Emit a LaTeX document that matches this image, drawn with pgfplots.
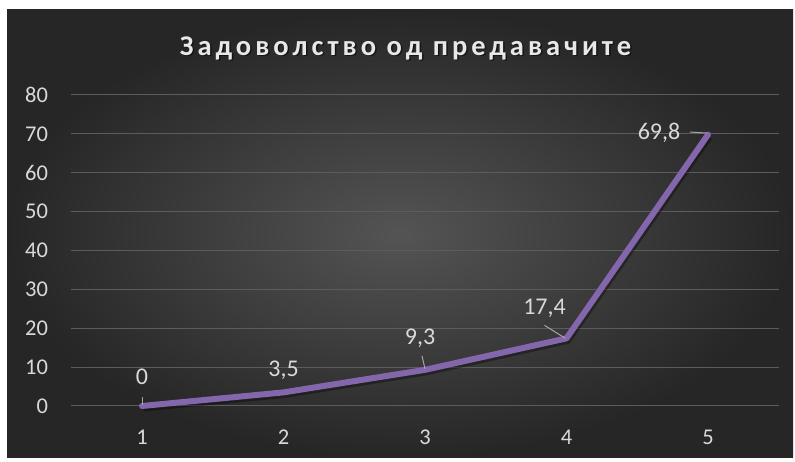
\documentclass[border=0pt]{standalone}
\usepackage{fontspec}
\setmainfont{Carlito}
\newfontfamily\titlefont[LetterSpace=14]{Carlito}
\usepackage{pgfplots}
\pgfplotsset{compat=1.18}
\usepackage{pgfplotstable}
\definecolor{bgin}{RGB}{84,84,84}
\definecolor{bgout}{RGB}{38,38,38}
\definecolor{gridc}{RGB}{92,92,92}
\definecolor{txt}{RGB}{217,217,217}
\definecolor{leader}{RGB}{166,166,166}
\definecolor{linec}{RGB}{132,102,172}
\pgfplotstableread{
x y dx dy
1 0 0 29
2 3.5 0 22
3 9.3 -5 32
4 17.4 -22 30
5 69.8 -49 2
}\datatable
\begin{document}
\begin{tikzpicture}[x=1pt,y=1pt]
\fill[white] (0,0) rectangle (795,462);
\shade[inner color=bgin, outer color=bgout] (7,4) rectangle (793,452);
\node[text=black, opacity=0.5] at (407,412.5) {\titlefont\bfseries\fontsize{28.5}{28.5}\selectfont Задоволство од предавачите};
\node[text=txt!60!white] at (405.5,414) {\titlefont\bfseries\fontsize{28.5}{28.5}\selectfont Задоволство од предавачите};
\begin{axis}[
  at={(71.25pt,56pt)}, anchor=south west,
  scale only axis, width=707.5pt, height=311pt,
  xmin=0.5, xmax=5.5, ymin=0, ymax=80,
  xtick={1,2,3,4,5}, ytick={0,10,...,80},
  axis line style={draw=none},
  major tick length=0pt,
  ymajorgrids, grid style={gridc, line width=1pt},
  /pgf/number format/assume math mode=true,
  xticklabel style={anchor=center, inner sep=0pt, yshift=-31pt, text=txt, font=\fontsize{22.5}{22.5}\selectfont},
  yticklabel style={anchor=east, inner sep=0pt, xshift=-23pt, text=txt, font=\fontsize{22.5}{22.5}\selectfont},
  clip=false,
]
\addplot[draw=black, opacity=0.35, line width=6pt, line join=round, transform canvas={xshift=1.5pt, yshift=-2.5pt}] table[x=x,y=y] {\datatable};
\addplot[draw=linec, line width=6pt, line join=round, line cap=round,
  nodes near coords,
  visualization depends on={\thisrow{dx} \as \dx},
  visualization depends on={\thisrow{dy} \as \dy},
  every node near coord/.append style={anchor=center, inner sep=0pt, xshift=\dx pt, yshift=\dy pt, text=txt, font=\fontsize{24}{24}\selectfont, /pgf/number format/use comma, /pgf/number format/fixed, /pgf/number format/precision=1, /pgf/number format/assume math mode=true},
] table[x=x,y=y] {\datatable};
\draw[leader, line width=1pt] (axis cs:1,0) ++(0pt,1pt) -- ++(0pt,8pt);
\draw[leader, line width=1pt] (axis cs:3,9.3) ++(0pt,1pt) -- ++(-3pt,13pt);
\draw[leader, line width=1pt] (axis cs:4,17.4) ++(-1pt,0pt) -- ++(-21pt,13pt);
\draw[leader, line width=1pt] (axis cs:5,69.8) ++(-1pt,1.6pt) -- ++(-17pt,1pt);
\end{axis}
\end{tikzpicture}
\end{document}
